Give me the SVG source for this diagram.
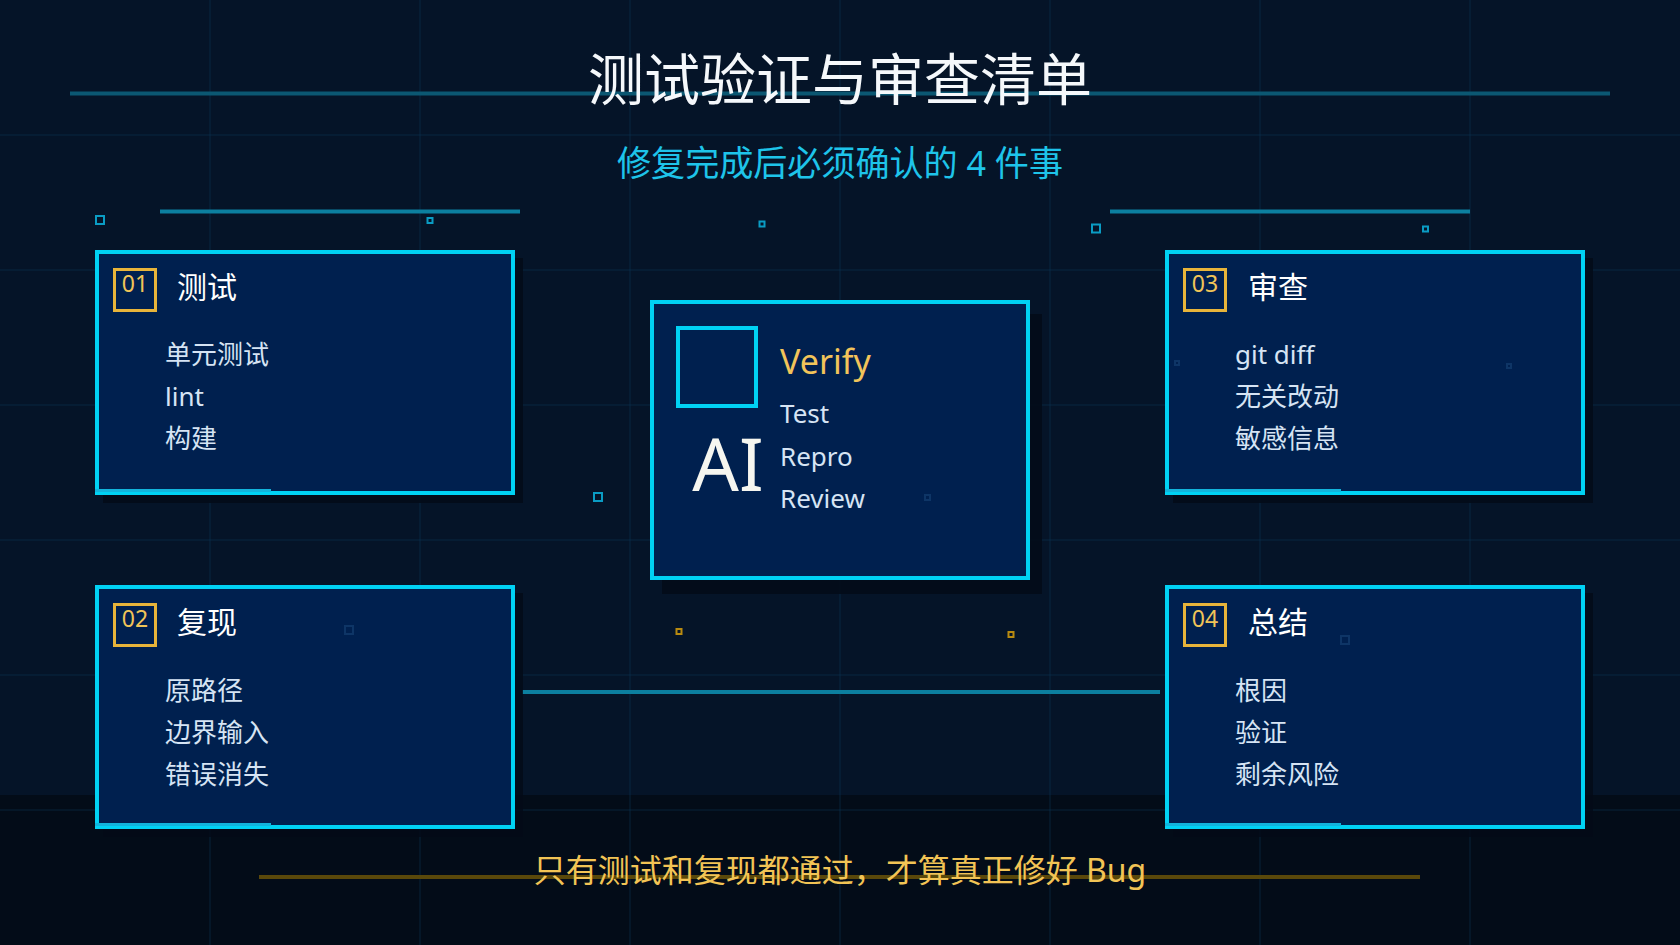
<svg xmlns="http://www.w3.org/2000/svg" width="1680" height="945" viewBox="0 0 1680 945">
<defs>
<style>
.grid line{stroke:#0b3a58;stroke-opacity:0.5;stroke-width:1}
.deco{stroke:#0c7f9f;stroke-width:4;fill:none}
.sq{fill:none;stroke:#0a9cc4;stroke-width:2}
.sqg{fill:none;stroke:#b88a10;stroke-width:2}
.sqf{fill:none;stroke:#0e3566;stroke-width:2}
.shadow{fill:#030b18;fill-opacity:0.85}
.card{fill:#00204f;stroke:#00d2f4;stroke-width:4}
.accent{fill:#12b4dc}
.badge{fill:none;stroke:#e8b43a;stroke-width:3}
.num{font-family:"Noto Sans","Noto Sans CJK SC",sans-serif;font-size:23px;fill:#f0c458;text-anchor:middle}
.head{font-family:"Noto Sans","Noto Sans CJK SC",sans-serif;font-size:30px;fill:#ffffff}
.item{font-family:"Noto Sans","Noto Sans CJK SC",sans-serif;font-size:26px;fill:#d6e4f4}
</style>
</defs>
<rect x="0" y="0" width="1680" height="945" fill="#051428"/>
<rect x="0" y="795" width="1680" height="150" fill="#030c18"/>
<g class="grid">
<line x1="210" y1="0" x2="210" y2="945"/><line x1="420" y1="0" x2="420" y2="945"/><line x1="630" y1="0" x2="630" y2="945"/><line x1="840" y1="0" x2="840" y2="945"/><line x1="1050" y1="0" x2="1050" y2="945"/><line x1="1260" y1="0" x2="1260" y2="945"/><line x1="1470" y1="0" x2="1470" y2="945"/>
<line x1="0" y1="135" x2="1680" y2="135"/><line x1="0" y1="270" x2="1680" y2="270"/><line x1="0" y1="405" x2="1680" y2="405"/><line x1="0" y1="540" x2="1680" y2="540"/><line x1="0" y1="675" x2="1680" y2="675"/><line x1="0" y1="810" x2="1680" y2="810"/>
</g>
<g id="decor">
<line x1="70" y1="93.5" x2="1610" y2="93.5" stroke="#0b5772" stroke-width="4"/>
<line class="deco" x1="160" y1="211.5" x2="520" y2="211.5"/>
<line class="deco" x1="1110" y1="211.5" x2="1470" y2="211.5"/>
<line x1="259" y1="877" x2="1420" y2="877" stroke="#5a480a" stroke-width="4"/>
<rect class="sq" x="96" y="216" width="8" height="8"/>
<rect class="sq" x="427.5" y="218" width="5" height="5" stroke-width="1.6"/>
<rect class="sq" x="759.5" y="221.5" width="5" height="5" stroke-width="1.6"/>
<rect class="sq" x="1092" y="224.5" width="8" height="8"/>
<rect class="sq" x="1423" y="226.5" width="5" height="5" stroke-width="1.6"/>
<rect class="sq" x="594" y="493" width="8" height="8"/>
<rect class="sqg" x="676.5" y="629" width="5" height="5" stroke-width="1.6"/>
<rect class="sqg" x="1008.5" y="632" width="5" height="5" stroke-width="1.6"/>
</g>
<g id="title">
<text x="840" y="100" font-family="'Noto Sans CJK SC',sans-serif" font-size="56" fill="#f5f8fb" text-anchor="middle">测试验证与审查清单</text>
<text x="840" y="176" font-family="'Noto Sans','Noto Sans CJK SC',sans-serif" font-size="35" fill="#1ec4ea" text-anchor="middle" textLength="446" lengthAdjust="spacingAndGlyphs">修复完成后必须确认的 4 件事</text>
</g>
<g id="connectors">
<line class="deco" x1="522" y1="692" x2="1160" y2="692"/>
</g>
<g id="card-01">
<rect class="shadow" x="103" y="258" width="420" height="245"/>
<rect class="card" x="97" y="252" width="416" height="241"/>
<rect class="accent" x="95" y="489" width="176" height="3"/>
<rect class="badge" x="114.5" y="269.5" width="41" height="41"/>
<text class="num" x="135" y="292">01</text>
<text class="head" x="177" y="298">测试</text>
<text class="item" x="165" y="364">单元测试</text>
<text class="item" x="165" y="406">lint</text>
<text class="item" x="165" y="448">构建</text>
</g>
<g id="card-02">
<rect class="shadow" x="103" y="593" width="420" height="244"/>
<rect class="card" x="97" y="587" width="416" height="240"/>
<rect class="accent" x="95" y="823" width="176" height="3"/>
<rect class="sqf" x="345" y="626" width="8" height="8"/>
<rect class="badge" x="114.5" y="604.5" width="41" height="41"/>
<text class="num" x="135" y="627">02</text>
<text class="head" x="177" y="633">复现</text>
<text class="item" x="165" y="700">原路径</text>
<text class="item" x="165" y="742">边界输入</text>
<text class="item" x="165" y="784">错误消失</text>
</g>
<g id="card-verify">
<rect class="shadow" x="662" y="314" width="380" height="280"/>
<rect class="card" x="652" y="302" width="376" height="276"/>
<rect x="678" y="328" width="78" height="78" fill="none" stroke="#00d2f4" stroke-width="4"/>
<rect class="sqf" x="925" y="495" width="5" height="5" stroke-width="1.5"/>
<text x="728" y="491" font-family="'Noto Sans',sans-serif" font-size="73" fill="#f6f6f0" text-anchor="middle">AI</text>
<text x="780" y="374" font-family="'Noto Sans',sans-serif" font-size="34" fill="#f2c45a">Verify</text>
<text class="item" x="780" y="423">Test</text>
<text class="item" x="780" y="466">Repro</text>
<text class="item" x="780" y="508">Review</text>
</g>
<g id="card-03">
<rect class="shadow" x="1173" y="258" width="420" height="245"/>
<rect class="card" x="1167" y="252" width="416" height="241"/>
<rect class="accent" x="1165" y="489" width="176" height="3"/>
<rect class="sqf" x="1175" y="361" width="4" height="4" stroke-width="1.5"/>
<rect class="sqf" x="1507" y="364" width="4" height="4" stroke-width="1.5"/>
<rect class="badge" x="1184.5" y="269.5" width="41" height="41"/>
<text class="num" x="1205" y="292">03</text>
<text class="head" x="1248" y="298">审查</text>
<text class="item" x="1235" y="364">git diff</text>
<text class="item" x="1235" y="406">无关改动</text>
<text class="item" x="1235" y="448">敏感信息</text>
</g>
<g id="card-04">
<rect class="shadow" x="1173" y="593" width="420" height="244"/>
<rect class="card" x="1167" y="587" width="416" height="240"/>
<rect class="accent" x="1165" y="823" width="176" height="3"/>
<rect class="sqf" x="1341" y="636" width="8" height="8"/>
<rect class="badge" x="1184.5" y="604.5" width="41" height="41"/>
<text class="num" x="1205" y="627">04</text>
<text class="head" x="1248" y="633">总结</text>
<text class="item" x="1235" y="700">根因</text>
<text class="item" x="1235" y="742">验证</text>
<text class="item" x="1235" y="784">剩余风险</text>
</g>
<g id="footer">
<text x="840" y="882" font-family="'Noto Sans','Noto Sans CJK SC',sans-serif" font-size="32" fill="#f2c455" text-anchor="middle">只有测试和复现都通过，才算真正修好 Bug</text>
</g>
</svg>
